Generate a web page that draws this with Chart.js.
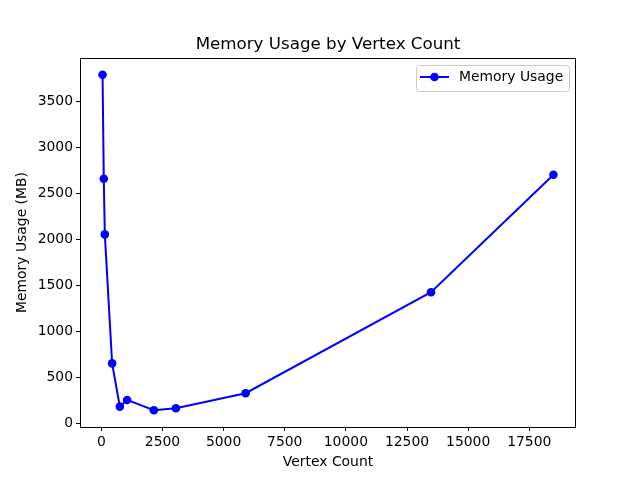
<!DOCTYPE html>
<html>
<head>
<meta charset="utf-8">
<script src="https://cdn.jsdelivr.net/npm/chart.js@4/dist/chart.umd.min.js"></script>
<style>
  html, body { margin: 0; padding: 0; background: #fff; }
  #wrap { width: 640px; height: 480px; }
</style>
</head>
<body>
<div id="wrap"><canvas id="memChart" width="640" height="480"></canvas></div>
<script>
// --- Data ---
const vertexCounts = [50, 100, 143, 442, 757, 1055, 2148, 3048, 5899, 13482, 18488];
const memoryUsage = [3786, 2656, 2052, 651, 181, 254, 142, 164, 327, 1424, 2700];
const xTicks = [0, 2500, 5000, 7500, 10000, 12500, 15000, 17500];
const yTicks = [0, 500, 1000, 1500, 2000, 2500, 3000, 3500];

const seriesLabel = "Memory Usage";
const chartTitle = "Memory Usage by Vertex Count";
const FONT = "'DejaVu Sans', sans-serif";
const BLUE = "#0000ff";

Chart.defaults.color = "#000";
Chart.defaults.font.family = FONT;

// frame, title and matplotlib-like legend
const decorPlugin = {
  id: "decor",
  afterDraw(chart) {
    const { ctx, chartArea: a } = chart;
    ctx.save();
    // axes frame
    ctx.strokeStyle = "#000";
    ctx.lineWidth = 1;
    ctx.strokeRect(a.left + 0.5, a.top + 0.5, a.right - a.left - 1, a.bottom - a.top);

    // title
    ctx.fillStyle = "#000";
    ctx.font = "16.7px " + FONT;
    ctx.textAlign = "center";
    ctx.textBaseline = "alphabetic";
    ctx.fillText(chartTitle, (a.left + a.right) / 2, 49);

    // legend
    const bx = 416, by = 65, bw = 153, bh = 26;
    ctx.beginPath();
    ctx.roundRect(bx + 0.5, by + 0.5, bw, bh, 3);
    ctx.fillStyle = "rgba(255,255,255,0.8)";
    ctx.fill();
    ctx.strokeStyle = "#cccccc";
    ctx.stroke();
    ctx.strokeStyle = BLUE;
    ctx.lineWidth = 2;
    ctx.beginPath();
    ctx.moveTo(420, 77);
    ctx.lineTo(449, 77);
    ctx.stroke();
    ctx.fillStyle = BLUE;
    ctx.beginPath();
    ctx.arc(434.5, 77, 4.3, 0, Math.PI * 2);
    ctx.fill();
    ctx.fillStyle = "#000";
    ctx.font = "13.9px " + FONT;
    ctx.textAlign = "left";
    ctx.textBaseline = "middle";
    ctx.fillText(seriesLabel, 459, 77);
    ctx.restore();
  },
};

const xMin = -872, xMax = 19410;
const yMin = -40, yMax = 3968;

new Chart(document.getElementById("memChart"), {
  type: "scatter",
  data: {
    datasets: [
      {
        label: seriesLabel,
        data: vertexCounts.map((v, i) => ({ x: v, y: memoryUsage[i] })),
        showLine: true,
        borderColor: BLUE,
        backgroundColor: BLUE,
        borderWidth: 2,
        pointRadius: 4.3,
        pointHoverRadius: 4.3,
        pointBorderWidth: 0,
        tension: 0,
      },
    ],
  },
  options: {
    responsive: false,
    animation: false,
    layout: { padding: { top: 58, right: 64, left: 0, bottom: 0 } },
    plugins: {
      legend: { display: false },
      title: { display: false },
      tooltip: { enabled: false },
    },
    scales: {
      x: {
        type: "linear",
        min: xMin,
        max: xMax,
        afterFit: (scale) => { scale.height = 53; },
        afterBuildTicks: (scale) => { scale.ticks = xTicks.map((v) => ({ value: v })); },
        border: { display: false },
        grid: { drawOnChartArea: false, drawTicks: true, tickLength: 4, color: "#000" },
        ticks: {
          padding: 3,
          maxRotation: 0,
          font: { size: 13.9 },
          callback: (v) => String(v),
        },
        title: {
          display: true,
          text: "Vertex Count",
          font: { size: 13.9 },
          padding: { top: 0, bottom: 9 },
        },
      },
      y: {
        type: "linear",
        min: yMin,
        max: yMax,
        afterFit: (scale) => { scale.width = 80; },
        afterBuildTicks: (scale) => { scale.ticks = yTicks.map((v) => ({ value: v })); },
        border: { display: false },
        grid: { drawOnChartArea: false, drawTicks: true, tickLength: 4, color: "#000" },
        ticks: {
          padding: 3,
          font: { size: 13.9 },
          callback: (v) => String(v),
        },
        title: {
          display: true,
          text: "Memory Usage (MB)",
          font: { size: 13.9 },
          padding: { top: 14, bottom: 0 },
        },
      },
    },
  },
  plugins: [decorPlugin],
});
</script>
</body>
</html>
